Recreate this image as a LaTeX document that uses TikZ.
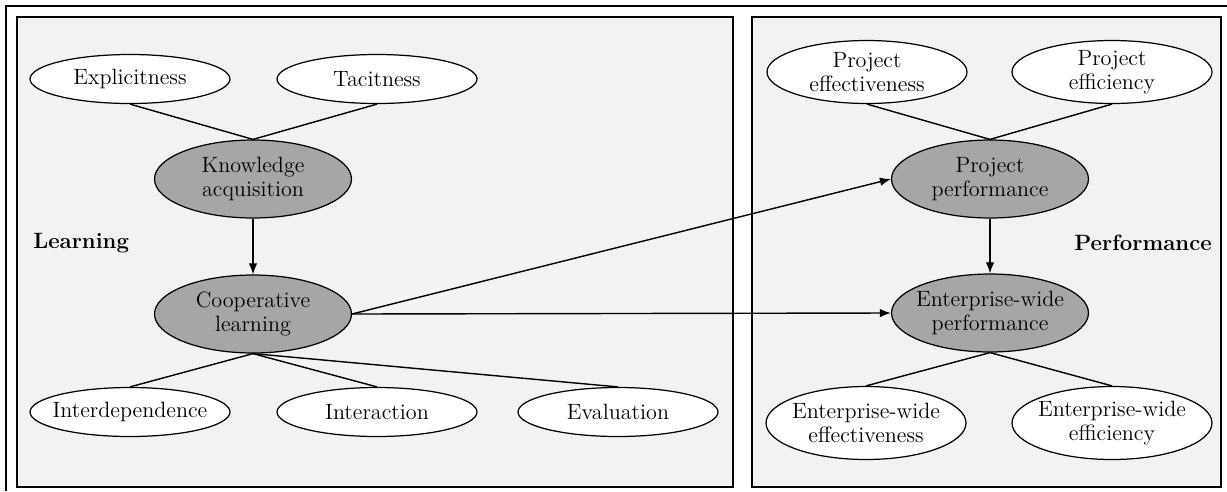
\documentclass[tikz,border=0pt]{standalone}
\usetikzlibrary{shapes.geometric, arrows, arrows.meta, positioning}
\tikzstyle{panel} = [draw=black, line width=1.6pt, fill=black!5]
\tikzstyle{factor} = [ellipse, draw=black, line width=0.7pt, fill=white, align=center, inner xsep=-4pt, inner ysep=0pt,
	minimum width=4cm, minimum height=0.98cm, font=\fontsize{12.6}{14}\selectfont]
\tikzstyle{construct} = [ellipse, draw=black, line width=0.7pt, fill=black!35, align=center, inner xsep=-4pt, inner ysep=0pt,
	minimum width=3.94cm, minimum height=1.56cm, font=\fontsize{12.6}{14}\selectfont]
\tikzstyle{title} = [font=\fontsize{12.6}{14}\selectfont\bfseries, inner sep=0pt]
\tikzstyle{link} = [line width=0.8pt]
\tikzstyle{arrow} = [-{Latex[length=2.2mm, width=1.7mm]}, line width=0.8pt]
\begin{document}
\begin{tikzpicture}[x=0.02cm, y=-0.02cm]
	\useasboundingbox (0,0) rectangle (1227,491);
	% page frame and panels
	\draw [line width=1.6pt] (6,491) -- (6,6) -- (1227,6);
	\draw [panel] (17,17) rectangle (733,487);
	\draw [panel] (752,17) rectangle (1221,487);

	% set up nodes: learning
	\node (expl) [factor] at (130,79) {Explicitness};
	\node (tacit) [factor] at (377,79) {Tacitness};
	\node (know) [construct] at (253,179) {Knowledge\\acquisition};
	\node (coop) [construct] at (253,314) {Cooperative\\learning};
	\node (interdep) [factor] at (130,412) {Interdependence};
	\node (interact) [factor] at (377,412) {Interaction};
	\node (eval) [factor] at (618,412) {Evaluation};
	\node (learning) [title, anchor=west] at (33,243) {Learning};

	% set up nodes: performance
	\node (peff) [factor, minimum height=1.26cm] at (867,72) {Project\\effectiveness};
	\node (peffi) [factor, minimum height=1.26cm] at (1112,72) {Project\\efficiency};
	\node (pperf) [construct] at (990,179) {Project\\performance};
	\node (eperf) [construct] at (990,313) {Enterprise-wide\\performance};
	\node (eeff) [factor, minimum height=1.46cm] at (866,423) {Enterprise-wide\\effectiveness};
	\node (eeffi) [factor, minimum height=1.46cm] at (1112,423) {Enterprise-wide\\efficiency};
	\node (performance) [title, anchor=east] at (1212,243) {Performance};

	% set up links
	\draw [link] (expl.south) -- (know.north);
	\draw [link] (tacit.south) -- (know.north);
	\draw [link] (coop.south) -- (interdep.north);
	\draw [link] (coop.south) -- (interact.north);
	\draw [link] (coop.south) -- (eval.north);
	\draw [link] (peff.south) -- (pperf.north);
	\draw [link] (peffi.south) -- (pperf.north);
	\draw [link] (eperf.south) -- (eeff.north);
	\draw [link] (eperf.south) -- (eeffi.north);

	% set up arrows
	\draw [arrow] (know) -- (coop);
	\draw [arrow] (pperf) -- (eperf);
	\draw [arrow] (coop.east) -- (pperf.west);
	\draw [arrow] (coop.east) -- (eperf.west);

\end{tikzpicture}
\end{document}
